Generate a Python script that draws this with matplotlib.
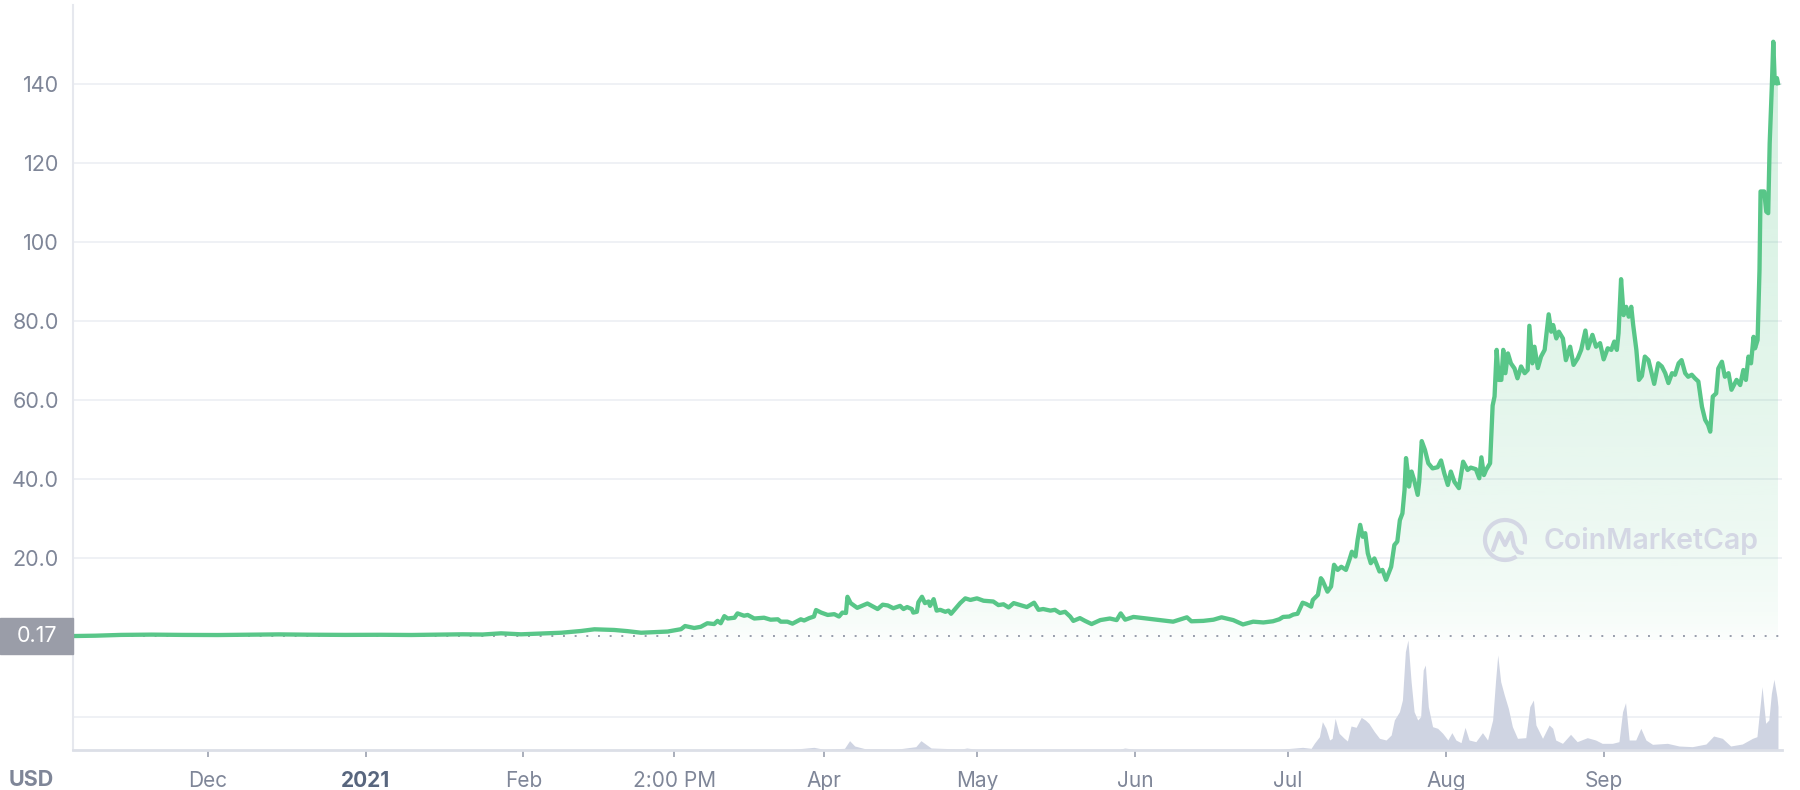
import numpy as np
import pandas as pd
import matplotlib
matplotlib.use("Agg")
import matplotlib.pyplot as plt
import matplotlib.transforms as mtransforms
from matplotlib.patches import Rectangle, Arc, PathPatch
from matplotlib.path import Path

plt.rcParams['font.family'] = ['Inter', 'DejaVu Sans']

# price line (USD)
price_dates = [
    "2020-11-05", "2020-11-09", "2020-11-14", "2020-11-20", "2020-11-26",
    "2020-12-03", "2020-12-10", "2020-12-15", "2020-12-21", "2020-12-28",
    "2021-01-04", "2021-01-10", "2021-01-16", "2021-01-20", "2021-01-24", "2021-01-27 14:00", "2021-01-31 12:00",
    "2021-02-05 19:00", "2021-02-08 10:00", "2021-02-12 07:00", "2021-02-14 22:00", "2021-02-18 19:00",
    "2021-02-21 10:00", "2021-02-24 02:00", "2021-02-26 17:00",
    "2021-03-01 07:00", "2021-03-03 22:00", "2021-03-04 17:00", "2021-03-06 12:00", "2021-03-07 19:00",
    "2021-03-09 02:00", "2021-03-10 10:00", "2021-03-11 02:00", "2021-03-11 17:00", "2021-03-12 10:00",
    "2021-03-13 02:00", "2021-03-14 10:00", "2021-03-15 00:00", "2021-03-16 07:00", "2021-03-17 00:00",
    "2021-03-18 07:00", "2021-03-20 05:00", "2021-03-21 12:00", "2021-03-22 22:00", "2021-03-23 12:00",
    "2021-03-24 19:00", "2021-03-25 19:00", "2021-03-27 10:00", "2021-03-28 02:00", "2021-03-29 02:00",
    "2021-03-30 00:00", "2021-03-30 10:00", "2021-03-31 10:00",
    "2021-04-01 17:00", "2021-04-03 00:00", "2021-04-03 22:00", "2021-04-04 14:00", "2021-04-05 07:00",
    "2021-04-05 14:00", "2021-04-06 05:00", "2021-04-07 12:00", "2021-04-08 05:00", "2021-04-09 12:00",
    "2021-04-11 12:00", "2021-04-12 12:00", "2021-04-13 12:00", "2021-04-14 14:00", "2021-04-15 22:00",
    "2021-04-16 14:00", "2021-04-17 07:00", "2021-04-18 05:00", "2021-04-18 12:00", "2021-04-19 05:00",
    "2021-04-19 12:00", "2021-04-20 05:00", "2021-04-20 19:00", "2021-04-21 12:00", "2021-04-21 19:00",
    "2021-04-22 12:00", "2021-04-23 02:00", "2021-04-23 19:00", "2021-04-24 19:00", "2021-04-25 10:00",
    "2021-04-25 22:00", "2021-04-26 17:00", "2021-04-27 17:00", "2021-04-28 17:00", "2021-04-29 17:00",
    "2021-05-01 00:00", "2021-05-02 07:00", "2021-05-04 05:00", "2021-05-05 05:00", "2021-05-06 05:00",
    "2021-05-07 05:00", "2021-05-08 05:00", "2021-05-09 12:00", "2021-05-10 19:00", "2021-05-12 05:00",
    "2021-05-13 02:00", "2021-05-14 00:00", "2021-05-15 10:00", "2021-05-16 07:00", "2021-05-17 07:00",
    "2021-05-18 07:00", "2021-05-19 07:00", "2021-05-19 22:00", "2021-05-21 05:00", "2021-05-22 05:00",
    "2021-05-23 12:00", "2021-05-25 05:00", "2021-05-27 02:00", "2021-05-28 10:00", "2021-05-29 05:00",
    "2021-05-30 02:00", "2021-05-31 17:00",
    "2021-06-03 07:00", "2021-06-05 22:00", "2021-06-08 12:00", "2021-06-11 05:00", "2021-06-12 02:00",
    "2021-06-14 10:00", "2021-06-16 10:00", "2021-06-18 00:00", "2021-06-20 07:00", "2021-06-22 05:00",
    "2021-06-24 05:00", "2021-06-26 05:00", "2021-06-28 02:00", "2021-06-29 08:00", "2021-06-30 02:00",
    "2021-07-01 07:00", "2021-07-02 02:00", "2021-07-02 22:00", "2021-07-03 22:00", "2021-07-04 14:00",
    "2021-07-05 14:00", "2021-07-05 22:00", "2021-07-06 22:00", "2021-07-07 12:00", "2021-07-07 19:00",
    "2021-07-08 19:00", "2021-07-09 12:00", "2021-07-10 02:00", "2021-07-10 19:00", "2021-07-11 12:00",
    "2021-07-12 10:00", "2021-07-13 02:00", "2021-07-13 14:00", "2021-07-14 07:00", "2021-07-14 17:00",
    "2021-07-15 05:00", "2021-07-15 17:00", "2021-07-16 05:00", "2021-07-16 17:00", "2021-07-17 07:00",
    "2021-07-18 00:00", "2021-07-19 00:00", "2021-07-19 14:00", "2021-07-20 07:00", "2021-07-21 07:00",
    "2021-07-21 22:00", "2021-07-22 12:00", "2021-07-23 00:00", "2021-07-23 12:00", "2021-07-23 22:00",
    "2021-07-24 05:00", "2021-07-24 12:00", "2021-07-24 19:00", "2021-07-25 07:00", "2021-07-25 19:00",
    "2021-07-26 12:00", "2021-07-26 19:00", "2021-07-27 07:00", "2021-07-27 22:00", "2021-07-28 14:00",
    "2021-07-29 10:00", "2021-07-30 10:00", "2021-07-31 02:00", "2021-07-31 17:00",
    "2021-08-01 10:00", "2021-08-02 00:00", "2021-08-02 17:00", "2021-08-03 14:00", "2021-08-04 10:00",
    "2021-08-05 07:00", "2021-08-05 22:00", "2021-08-06 22:00", "2021-08-07 14:00", "2021-08-08 00:00",
    "2021-08-08 12:00", "2021-08-08 22:00", "2021-08-09 17:00", "2021-08-10 05:00", "2021-08-10 14:00",
    "2021-08-11 00:00", "2021-08-11 10:00", "2021-08-11 22:00", "2021-08-12 07:00", "2021-08-12 17:00",
    "2021-08-13 05:00", "2021-08-13 19:00", "2021-08-14 12:00", "2021-08-15 02:00", "2021-08-15 19:00",
    "2021-08-16 12:00", "2021-08-17 02:00", "2021-08-17 10:00", "2021-08-18 00:00", "2021-08-18 10:00",
    "2021-08-19 02:00", "2021-08-19 17:00", "2021-08-20 10:00", "2021-08-21 05:00", "2021-08-21 17:00",
    "2021-08-22 02:00", "2021-08-22 17:00", "2021-08-23 05:00", "2021-08-24 00:00", "2021-08-24 14:00",
    "2021-08-25 10:00", "2021-08-26 02:00", "2021-08-26 22:00", "2021-08-27 14:00", "2021-08-28 10:00",
    "2021-08-28 22:00", "2021-08-29 19:00", "2021-08-30 12:00", "2021-08-31 07:00",
    "2021-09-01 00:00", "2021-09-01 19:00", "2021-09-02 12:00", "2021-09-03 02:00", "2021-09-03 14:00",
    "2021-09-03 22:00", "2021-09-04 10:00", "2021-09-04 22:00", "2021-09-05 10:00", "2021-09-05 22:00",
    "2021-09-06 10:00", "2021-09-06 19:00", "2021-09-07 10:00", "2021-09-07 22:00", "2021-09-08 12:00",
    "2021-09-09 02:00", "2021-09-09 19:00", "2021-09-10 10:00", "2021-09-10 22:00", "2021-09-11 17:00",
    "2021-09-12 10:00", "2021-09-13 02:00", "2021-09-13 17:00", "2021-09-14 10:00", "2021-09-15 00:00",
    "2021-09-15 17:00", "2021-09-16 07:00", "2021-09-17 00:00", "2021-09-17 14:00", "2021-09-18 07:00",
    "2021-09-18 22:00", "2021-09-19 14:00", "2021-09-20 07:00", "2021-09-20 22:00", "2021-09-21 12:00",
    "2021-09-21 22:00", "2021-09-22 10:00", "2021-09-23 02:00", "2021-09-23 12:00", "2021-09-24 05:00",
    "2021-09-24 19:00", "2021-09-25 12:00", "2021-09-26 02:00", "2021-09-27 02:00", "2021-09-27 19:00",
    "2021-09-28 10:00", "2021-09-28 22:00", "2021-09-29 10:00", "2021-09-29 22:00", "2021-09-30 10:00",
    "2021-09-30 17:00", "2021-10-01 05:00", "2021-10-01 14:00", "2021-10-01 19:00", "2021-10-02 12:00",
    "2021-10-02 22:00", "2021-10-03 07:00", "2021-10-03 14:00", "2021-10-04 00:00", "2021-10-04 07:00",
    "2021-10-04 14:00", "2021-10-05 00:00", "2021-10-05 05:00",
]
prices = [
    0.17, 0.25, 0.45, 0.52, 0.45,
    0.42, 0.50, 0.58, 0.50, 0.45,
    0.48, 0.43, 0.52, 0.60, 0.55, 0.85, 0.60,
    0.85, 1.00, 1.44, 1.87, 1.70,
    1.40, 1.00, 1.15,
    1.30, 1.90, 2.70, 2.20, 2.50,
    3.40, 3.20, 4.00, 3.40, 5.20,
    4.60, 4.80, 5.90, 5.30, 5.50,
    4.60, 4.80, 4.30, 4.40, 3.80,
    3.80, 3.30, 4.40, 4.10, 4.70,
    5.10, 6.75, 6.10,
    5.50, 5.70, 5.10, 6.10, 6.00,
    10.1, 8.50, 7.30, 7.70, 8.40,
    7.00, 8.10, 7.90, 7.20, 7.80,
    7.00, 7.50, 7.00, 6.10, 6.30,
    8.70, 10.1, 8.50, 8.90, 7.80,
    9.50, 6.60, 6.80, 6.30, 6.60,
    5.80, 7.00, 8.50, 9.70, 9.30,
    9.70, 9.10, 8.90, 8.00, 8.20,
    7.40, 8.50, 8.00, 7.50, 8.60,
    6.80, 7.00, 6.60, 6.80, 6.00,
    6.30, 5.10, 4.00, 4.70, 4.00,
    3.20, 4.20, 4.60, 4.20, 5.90,
    4.30, 5.00,
    4.60, 4.20, 3.80, 4.90, 3.90,
    4.00, 4.30, 4.90, 4.20, 3.10,
    3.80, 3.60, 3.90, 4.40, 5.00,
    5.10, 5.60, 5.80, 8.60, 8.30,
    7.60, 9.30, 10.6, 14.8, 14.3,
    11.4, 12.7, 18.2, 16.9, 17.7,
    16.9, 19.4, 21.5, 20.3, 24.5,
    28.3, 25.3, 26.2, 21.1, 18.6,
    19.8, 16.5, 16.9, 14.4, 17.7,
    23.2, 24.1, 29.5, 31.2, 37.1,
    45.2, 42.2, 38.0, 41.8, 39.7,
    35.9, 39.2, 49.5, 47.3, 43.9,
    42.6, 42.9, 44.6, 41.4,
    38.4, 41.8, 39.2, 37.6, 44.3,
    42.2, 42.8, 42.4, 40.1, 45.4,
    40.9, 42.2, 43.9, 58.5, 60.8,
    72.6, 65.0, 65.0, 72.6, 66.7,
    71.7, 69.2, 67.9, 65.4, 68.4,
    66.7, 67.5, 78.7, 69.2, 73.4,
    68.0, 70.9, 72.6, 81.6, 77.2,
    78.9, 75.5, 77.2, 75.5, 70.0,
    73.4, 68.8, 70.5, 72.6, 77.5,
    73.0, 76.4, 73.4, 74.3,
    70.2, 73.0, 72.6, 74.7, 72.6,
    76.8, 90.5, 81.4, 83.5, 81.0,
    83.5, 78.9, 72.6, 65.0, 66.0,
    70.9, 70.0, 66.7, 64.0, 69.2,
    68.4, 66.7, 64.2, 66.7, 66.3,
    69.2, 70.0, 66.7, 65.8, 66.3,
    65.4, 64.6, 58.2, 54.9, 53.6,
    51.9, 60.8, 61.6, 67.9, 69.6,
    65.8, 66.7, 62.5, 65.0, 63.7,
    67.5, 65.0, 70.9, 69.2, 75.9,
    73.0, 75.1, 92.8, 112.7, 112.7,
    107.6, 107.2, 124.9, 139.2, 150.6,
    140.1, 141.4, 140.1,
]

# trading volume (relative units, 1 = the volume gridline)
vol_dates = [
    "2020-11-05", "2021-03-25", "2021-03-30", "2021-04-01", "2021-04-05", "2021-04-06", "2021-04-07",
    "2021-04-09", "2021-04-15", "2021-04-19", "2021-04-20", "2021-04-22", "2021-04-28", "2021-04-29",
    "2021-05-01", "2021-05-29", "2021-05-30", "2021-06-01", "2021-06-29 08:00",
    "2021-07-03 22:00", "2021-07-05 14:00", "2021-07-06 05:00", "2021-07-07 05:00", "2021-07-07 19:00",
    "2021-07-08 12:00", "2021-07-09 05:00", "2021-07-09 17:00", "2021-07-10 07:00", "2021-07-11 02:00",
    "2021-07-12 02:00", "2021-07-12 17:00", "2021-07-13 10:00", "2021-07-14 10:00", "2021-07-15 10:00",
    "2021-07-16 05:00", "2021-07-16 22:00", "2021-07-18 00:00", "2021-07-19 00:00", "2021-07-20 07:00",
    "2021-07-21 07:00", "2021-07-21 22:00", "2021-07-22 22:00", "2021-07-23 12:00", "2021-07-24 02:00",
    "2021-07-24 14:00", "2021-07-25 05:00", "2021-07-25 19:00", "2021-07-26 12:00", "2021-07-27 02:00",
    "2021-07-27 14:00", "2021-07-28 00:00", "2021-07-28 14:00", "2021-07-29 10:00", "2021-07-30 10:00",
    "2021-07-31 10:00", "2021-08-01 10:00", "2021-08-02 05:00", "2021-08-03 00:00", "2021-08-04 00:00",
    "2021-08-04 19:00", "2021-08-05 14:00", "2021-08-06 22:00", "2021-08-08 05:00", "2021-08-09 05:00",
    "2021-08-10 05:00", "2021-08-10 19:00", "2021-08-11 05:00", "2021-08-11 19:00", "2021-08-12 12:00",
    "2021-08-13 07:00", "2021-08-14 02:00", "2021-08-15 02:00", "2021-08-16 17:00", "2021-08-17 12:00",
    "2021-08-18 05:00", "2021-08-18 17:00", "2021-08-20 00:00", "2021-08-21 07:00", "2021-08-22 00:00",
    "2021-08-22 14:00", "2021-08-23 22:00", "2021-08-25 12:00", "2021-08-26 19:00", "2021-08-28 19:00",
    "2021-08-30 10:00", "2021-08-31 17:00", "2021-09-02 17:00", "2021-09-04 00:00", "2021-09-04 17:00",
    "2021-09-05 07:00", "2021-09-06 00:00", "2021-09-07 07:00", "2021-09-08 07:00", "2021-09-09 07:00",
    "2021-09-10 14:00", "2021-09-13 12:00", "2021-09-15 19:00", "2021-09-18 10:00", "2021-09-21 02:00",
    "2021-09-22 14:00", "2021-09-24 07:00", "2021-09-25 22:00", "2021-09-28 05:00", "2021-09-30 05:00",
    "2021-10-01 02:00", "2021-10-01 14:00", "2021-10-02 02:00", "2021-10-02 19:00", "2021-10-03 10:00",
    "2021-10-03 22:00", "2021-10-04 10:00", "2021-10-05 00:00", "2021-10-05 05:00",
]
volumes = [
    0.01, 0.01, 0.08, 0.02, 0.05, 0.28, 0.12,
    0.04, 0.02, 0.10, 0.28, 0.06, 0.03, 0.06,
    0.02, 0.02, 0.06, 0.02, 0.02,
    0.08, 0.05, 0.20, 0.40, 0.85,
    0.65, 0.30, 0.35, 0.95, 0.50,
    0.35, 0.27, 0.72, 0.68, 0.98,
    0.90, 0.80, 0.55, 0.35, 0.30,
    0.45, 0.90, 1.15, 1.50, 2.95,
    3.30, 2.05, 1.15, 0.90, 1.00,
    2.40, 2.55, 1.30, 0.70, 0.65,
    0.50, 0.30, 0.52, 0.30, 0.22,
    0.68, 0.30, 0.25, 0.52, 0.30,
    0.90, 2.10, 2.85, 2.05, 1.65,
    1.25, 0.70, 0.35, 0.37, 1.30,
    1.50, 0.75, 0.35, 0.75, 0.65,
    0.30, 0.20, 0.47, 0.25, 0.37,
    0.30, 0.20, 0.20, 0.25, 1.15,
    1.42, 0.30, 0.30, 0.65, 0.30,
    0.17, 0.20, 0.12, 0.10, 0.18,
    0.42, 0.35, 0.12, 0.18, 0.35,
    0.40, 1.15, 1.90, 0.80, 0.90,
    1.70, 2.12, 1.60, 1.30,
]

y_ticks = [20, 40, 60, 80, 100, 120, 140]
y_labels = ["20.0", "40.0", "60.0", "80.0", "100", "120", "140"]
x_ticks = ["2020-12-01", "2021-01-01", "2021-02-01", "2021-03-02 14:00", "2021-04-01",
           "2021-05-01", "2021-06-01", "2021-07-01", "2021-08-01", "2021-09-01"]
x_labels = ["Dec", "2021", "Feb", "2:00 PM", "Apr", "May", "Jun", "Jul", "Aug", "Sep"]
start_price = 0.17


def to_dt(s):
    return pd.to_datetime(s, format="mixed")


GREEN = "#58c688"
GRID = "#eff1f5"
LABEL = "#7f8698"

W, H = 1800, 790
fig = plt.figure(figsize=(W / 100, H / 100), dpi=100)
ax = fig.add_axes([73 / W, 1 - 640 / H, (1782 - 73) / W, 635 / H])
axv = fig.add_axes([73 / W, 1 - 750 / H, (1782 - 73) / W, 110 / H], sharex=ax)

pd_dates = to_dt(price_dates)
ymin, ymax = -0.84, 159.9

# price line + gradient fill beneath it
ax.plot(pd_dates, prices, color=GREEN, lw=3.1, solid_joinstyle="round", zorder=4)
poly = ax.fill_between(pd_dates, prices, ymin, facecolor="none", lw=0)
levels = np.linspace(ymin, ymax, 300)
alpha = 0.02 + 0.24 * (np.clip(levels, 0, 150) / 150) ** 0.6
img = np.zeros((len(levels), 1, 4))
img[:, :, :3] = matplotlib.colors.to_rgb(GREEN)
img[:, 0, 3] = alpha
x0, x1 = matplotlib.dates.date2num(pd_dates[0]), matplotlib.dates.date2num(pd_dates[-1])
im = ax.imshow(img, extent=[x0, x1, ymin, ymax], origin="lower", aspect="auto", zorder=1,
               interpolation="bilinear")
im.set_clip_path(poly.get_paths()[0], transform=ax.transData)

ax.axhline(start_price, color="#979dab", lw=1.4, ls=(0, (1, 5)), zorder=2)
for v in y_ticks:
    ax.axhline(v, color=GRID, lw=1.4, zorder=0)

ax.set_xlim(to_dt("2020-11-04 14:00"), to_dt("2021-10-06 00:00"))
ax.set_ylim(ymin, ymax)
ax.set_yticks(y_ticks, y_labels)
ax.tick_params(axis="y", length=0, pad=10, labelsize=15.5, labelcolor=LABEL)
ax.tick_params(axis="x", length=0, labelbottom=False)
for s in ["top", "right", "bottom"]:
    ax.spines[s].set_visible(False)
ax.spines["left"].set_color("#e6e8ee")
ax.spines["left"].set_linewidth(1.5)

# volume panel
axv.fill_between(to_dt(vol_dates), volumes, 0, color="#cfd4e2", lw=0, zorder=2)
axv.axhline(1, color=GRID, lw=1.4, zorder=0)
axv.set_ylim(0, 3.3)
axv.set_yticks([])
for s in ["top", "right"]:
    axv.spines[s].set_visible(False)
axv.spines["left"].set_color("#e6e8ee")
axv.spines["left"].set_linewidth(1.5)
axv.spines["bottom"].set_color("#dcdfe7")
axv.spines["bottom"].set_linewidth(2)
axv.set_xticks(to_dt(x_ticks))
axv.set_xticklabels(x_labels)
axv.tick_params(axis="x", length=5, width=1.3, color="#a3a8b5", pad=10,
                labelsize=15, labelcolor=LABEL)
for lab in axv.get_xticklabels():
    if lab.get_text() == "2021":
        lab.set_fontweight("bold")
        lab.set_color("#58667e")

# start-price badge on the left
blend = mtransforms.blended_transform_factory(fig.transFigure, ax.transData)
fig.add_artist(Rectangle((0, start_price - 4.45), 73 / W, 8.9, transform=blend,
                         color="#9a9da8", clip_on=False, zorder=5))
fig.text(37 / W, start_price, "0.17", transform=blend, ha="center", va="center",
         color="white", fontsize=15.5, zorder=6)
fig.text(31 / W, 1 - 780 / H, "USD", ha="center", va="center", color=LABEL,
         fontsize=15.5, fontweight="bold")

# CoinMarketCap watermark
ov = fig.add_axes([0, 0, 1, 1])
ov.set_xlim(0, W)
ov.set_ylim(H, 0)
ov.axis("off")
WM = "#d4d7e4"
cx, cy, r = 1505, 540, 20
ov.add_patch(Arc((cx, cy), 2 * r, 2 * r, theta1=55, theta2=372, color=WM, lw=3))
m_pts = [(-12, 10), (-6, -7), (0, 5), (6, -7), (9, 6), (13, 12), (17, 13)]
m_path = Path([(cx + dx, cy + dy) for dx, dy in m_pts])
ov.add_patch(PathPatch(m_path, fill=False, edgecolor=WM, lw=3, joinstyle="round", capstyle="round"))
ov.text(1544, 541, "CoinMarketCap", fontsize=20.5, fontweight="semibold", color=WM,
        ha="left", va="center")

fig.savefig("out.png", dpi=100)
